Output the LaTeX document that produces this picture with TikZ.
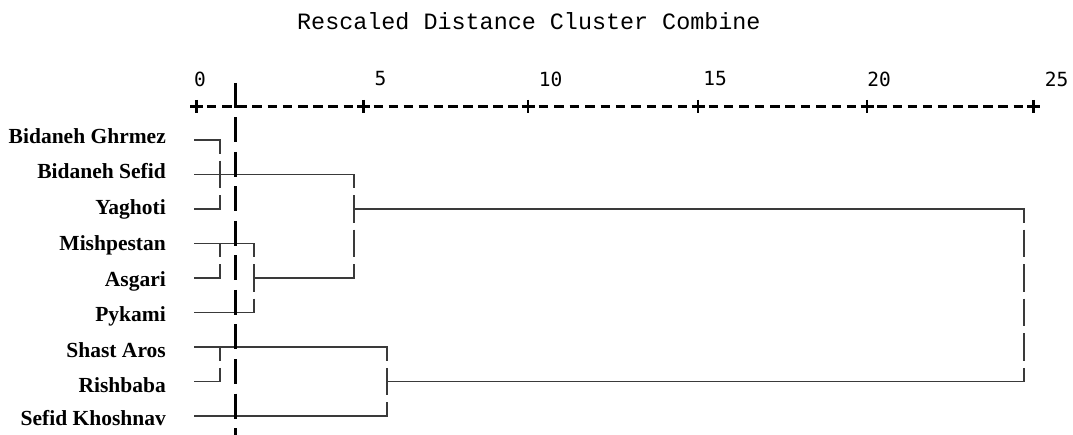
\documentclass[tikz,border=0pt]{standalone}
\usepackage{fontspec}
\setmainfont{Liberation Serif}
\newfontfamily\titlefont{Liberation Mono}
\newfontfamily\numfont{DejaVu Sans Mono}
\definecolor{dgray}{HTML}{3A3A3A}
\begin{document}
\begin{tikzpicture}[x=1pt,y=-1pt,
  hline/.style={draw=dgray, line width=1.6pt, line cap=rect},
  vline/.style={draw=dgray, line width=1.8pt, dash pattern=on 27.5pt off 7pt, dash phase=13.75pt},
  cutline/.style={draw=black, line width=3.6pt, dash pattern=on 25pt off 9.5pt},
  leaflabel/.style={anchor=base east, inner sep=0pt, font=\bfseries\fontsize{21.5}{24}\selectfont},
  numlabel/.style={anchor=center, inner sep=0pt, font=\numfont\fontsize{19.5}{22}\selectfont},
  axisdash/.style={draw=black, line width=2.8pt},
  tickplus/.style={draw=black, line width=2.8pt}]
\useasboundingbox (0,0) rectangle (1073,435);

% title
\node[anchor=base west, inner sep=0pt, font=\titlefont\fontsize{23.4}{27}\selectfont] (title) at (297,30) {Rescaled Distance Cluster Combine};

% axis numbers
\node[numlabel] (n0) at (200,79) {0};
\node[numlabel] (n5) at (380.5,79) {5};
\node[numlabel] (n10) at (550.5,79) {10};
\node[numlabel] (n15) at (715,79) {15};
\node[numlabel] (n20) at (879,79) {20};
\node[numlabel] (n25) at (1056.5,79) {25};

% axis
\foreach \a/\b in {196.5/363.5, 363.5/528, 528/698, 698/867, 867/1033.5}
  \foreach \k in {1,...,10}
    \draw[axisdash] ({\a+\k*(\b-\a)/11-4.75},106.5) -- ++(9.5,0);
\foreach \t in {196.5, 363.5, 528, 698, 867, 1033.5}
  \draw[tickplus] (\t-6.5,106.5) -- (\t+6.5,106.5) (\t,100) -- (\t,113);

% labels
\node[leaflabel] (lab1) at (166,143.5) {Bidaneh Ghrmez};
\node[leaflabel] (lab2) at (166,179) {Bidaneh Sefid};
\node[leaflabel] (lab3) at (166,215) {Yaghoti};
\node[leaflabel] (lab4) at (166,251) {Mishpestan};
\node[leaflabel] (lab5) at (166,286.5) {Asgari};
\node[leaflabel] (lab6) at (166,322) {Pykami};
\node[leaflabel] (lab7) at (166,357.5) {Shast Aros};
\node[leaflabel] (lab8) at (166,392.5) {Rishbaba};
\node[leaflabel] (lab9) at (166,425) {Sefid Khoshnav};

% leaf starts
\coordinate (L1) at (195,140);
\coordinate (L2) at (195,174.5);
\coordinate (L3) at (195,209);
\coordinate (L4) at (195,243.5);
\coordinate (L5) at (195,278);
\coordinate (L6) at (195,312.5);
\coordinate (L7) at (195,347);
\coordinate (L8) at (195,381.5);
\coordinate (L9) at (195,416);

% join points
\coordinate (a1) at (220,140);   \coordinate (a3) at (220,209);
\coordinate (b4) at (220,243.5); \coordinate (b5) at (220,278);
\coordinate (c7) at (220,347);   \coordinate (c8) at (220,381.5);
\coordinate (d4) at (254,243.5); \coordinate (d5) at (254,278); \coordinate (d6) at (254,312.5);
\coordinate (e2) at (354,174.5); \coordinate (e3) at (354,209); \coordinate (e5) at (354,278);
\coordinate (f7) at (387,347);   \coordinate (f8) at (387,381.5); \coordinate (f9) at (387,416);
\coordinate (g3) at (1024,209);  \coordinate (g8) at (1024,381.5);

% horizontal lines
\draw[hline] (L1) -- (a1);
\draw[hline] (L3) -- (a3);
\draw[hline] (L2) -- (e2);
\draw[hline] (L4) -- (d4);
\draw[hline] (L5) -- (b5);
\draw[hline] (L6) -- (d6);
\draw[hline] (d5) -- (e5);
\draw[hline] (e3) -- (g3);
\draw[hline] (L7) -- (f7);
\draw[hline] (L8) -- (c8);
\draw[hline] (L9) -- (f9);
\draw[hline] (f8) -- (g8);

% vertical lines
\draw[vline] (a1) -- (a3);
\draw[vline] (b4) -- (b5);
\draw[vline] (c7) -- (c8);
\draw[vline] (d4) -- (d6);
\draw[vline] (e2) -- (e5);
\draw[vline] (f7) -- (f9);
\draw[vline] (g3) -- (g8);

% cut line
\coordinate (cutTop) at (235.5,83);
\coordinate (cutBot) at (235.5,435);
\draw[cutline] (cutTop) -- (cutBot);
\end{tikzpicture}
\end{document}
